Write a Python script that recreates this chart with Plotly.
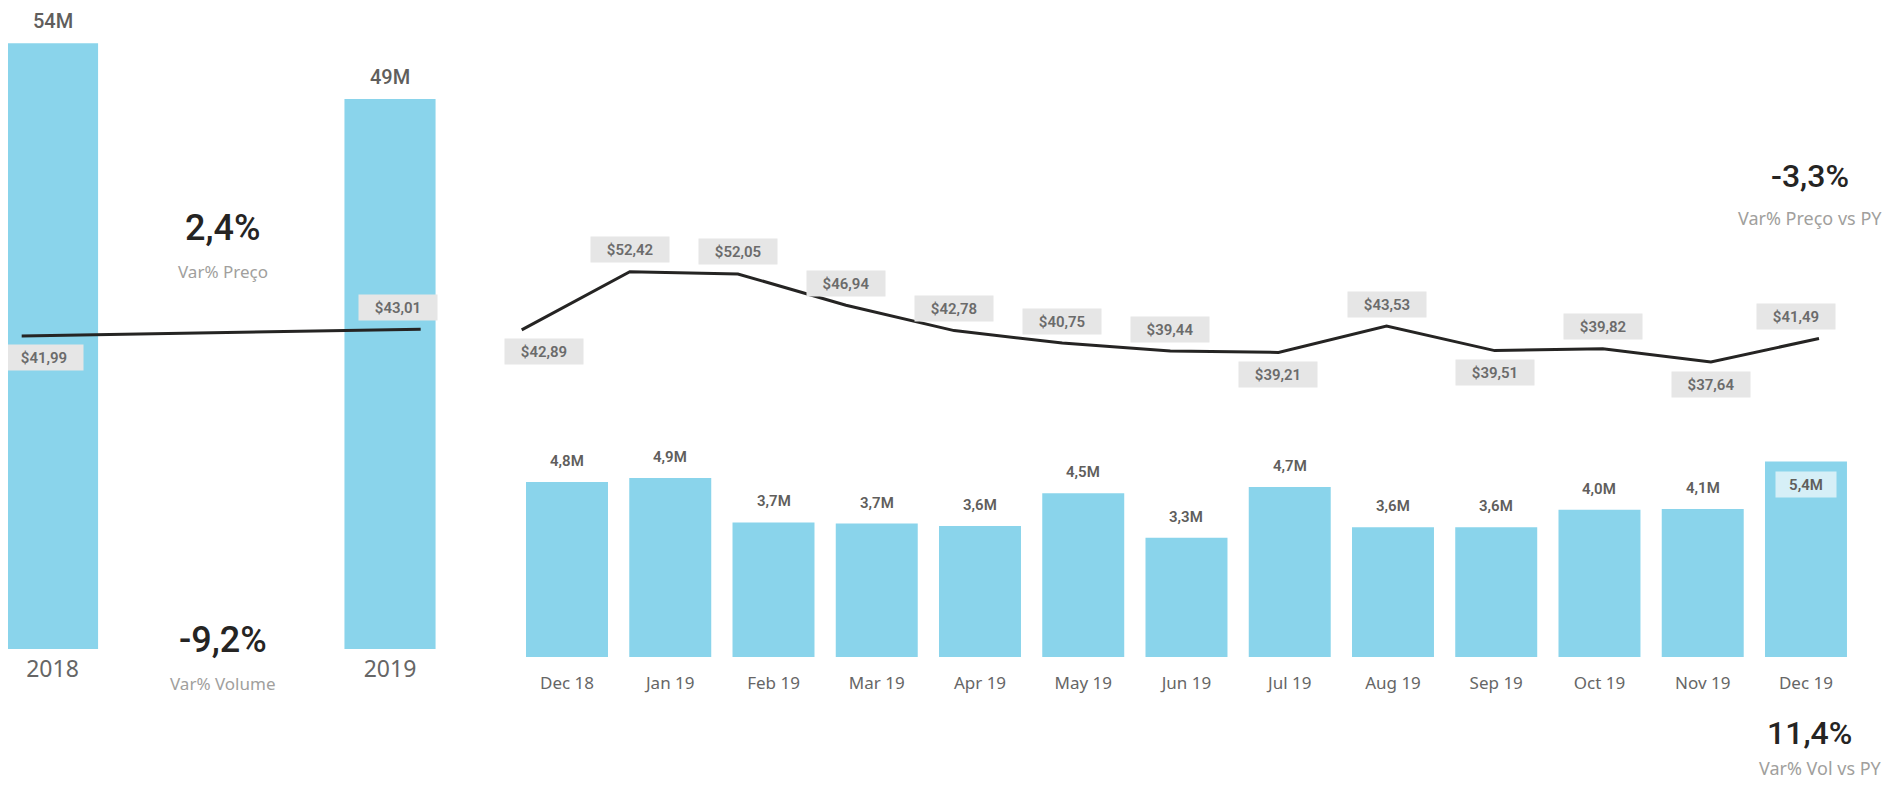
import plotly.graph_objects as go

# ---------------- data ----------------
years = ["2018", "2019"]
vol_year_m = [53.85, 48.88]          # volume, millions
price_year = [41.99, 43.01]          # average price, $

months = ["Dec 18", "Jan 19", "Feb 19", "Mar 19", "Apr 19", "May 19", "Jun 19",
          "Jul 19", "Aug 19", "Sep 19", "Oct 19", "Nov 19", "Dec 19"]
vol_month_m = [4.80, 4.91, 3.69, 3.66, 3.59, 4.49, 3.27, 4.66, 3.56, 3.56, 4.04, 4.06, 5.36]
price_month = [42.89, 52.42, 52.05, 46.94, 42.78, 40.75, 39.44, 39.21, 43.53, 39.51, 39.82, 37.64, 41.49]

kpi_labels = ["Var% Preço", "Var% Volume", "Var% Preço vs PY", "Var% Vol vs PY"]
kpi_values = [2.4, -9.2, -3.3, 11.4]

# ---------------- styling ----------------
W, H, OFF = 1875, 773, 8
BAR = "#8AD4EB"
LINE = "#252423"
DIN = "DIN, Roboto, 'Liberation Sans', sans-serif"
SEGOE = "'Segoe UI', 'Noto Sans', 'Open Sans', sans-serif"
LBL = "#605E5C"


def px(X):
    return (X - OFF) / W


def py(Y):
    return 1 - (Y - OFF) / H


def comma(s):
    return s.replace(".", ",")


fig = go.Figure()

# left: yearly volume bars + price line
fig.add_trace(go.Bar(x=years, y=vol_year_m, xaxis="x", yaxis="y", width=0.27,
                     marker=dict(color=BAR, line=dict(width=0)), hoverinfo="skip"))
fig.add_trace(go.Scatter(x=years, y=price_year, xaxis="x2", yaxis="y2", mode="lines",
                         line=dict(color=LINE, width=3), hoverinfo="skip"))

# right: monthly volume bars + price line
fig.add_trace(go.Bar(x=months, y=vol_month_m, xaxis="x3", yaxis="y3", width=0.794,
                     marker=dict(color=BAR, line=dict(width=0)), hoverinfo="skip"))
fig.add_trace(go.Scatter(x=months, y=price_month, xaxis="x4", yaxis="y4", mode="lines",
                         line=dict(color=LINE, width=3), hoverinfo="skip"))

ann = []

# yearly bar labels (category index positions on the category axis)
for i, v in enumerate(vol_year_m):
    ann.append(dict(x=i, y=v, xref="x", yref="y", text=f"{round(v):d}M", showarrow=False,
                    yanchor="middle", yshift=22,
                    font=dict(family=DIN, size=20, color=LBL, weight=500)))

# monthly bar labels
vmax = max(vol_month_m)
for i, v in enumerate(vol_month_m):
    txt = comma(f"{v:.1f}") + "M"
    if v == vmax:
        ann.append(dict(x=i, y=v, xref="x3", yref="y3", text=txt, showarrow=False,
                        yanchor="middle", yshift=-23, bgcolor="#D6EFF7",
                        width=54, height=19, borderpad=3,
                        font=dict(family=DIN, size=15, color=LBL, weight=600)))
    else:
        ann.append(dict(x=i, y=v, xref="x3", yref="y3", text=txt, showarrow=False,
                        yanchor="middle", yshift=21,
                        font=dict(family=DIN, size=15, color=LBL, weight=600)))


def price_labels(vals, xref, yref):
    n = len(vals)
    out = []
    for i, p in enumerate(vals):
        nb = [vals[j] for j in (i - 1, i + 1) if 0 <= j < n]
        below = all(p < q for q in nb)
        xs = 22 if i == 0 else (-23 if i == n - 1 else 0)
        out.append(dict(x=i, y=p, xref=xref, yref=yref, text=comma(f"${p:.2f}"),
                        showarrow=False, yanchor="middle", xanchor="center",
                        yshift=-22 if below else 22, xshift=xs,
                        bgcolor="#E6E6E6", width=72, height=19, borderpad=3,
                        font=dict(family=DIN, size=15, color="#6B6B6B", weight=600)))
    return out


ann += price_labels(price_year, "x2", "y2")
ann += price_labels(price_month, "x4", "y4")

# KPI cards
kpi_pos = [(222.5, 228, 271), (223, 640, 683), (1810, 176, 218), (1809, 733, None)]
for lab, val, (cx, vy, ly) in zip(kpi_labels, kpi_values, kpi_pos):
    left = cx < 500
    big = 36 if left else 32
    sub = 17 if left else 18
    ann.append(dict(x=px(cx), y=py(vy), xref="paper", yref="paper", showarrow=False,
                    text=comma(f"{val:.1f}%"), xanchor="center", yanchor="middle",
                    font=dict(family=DIN, size=big, color="#252423", weight=500)))
    if left:
        ann.append(dict(x=px(cx), y=py(ly), xref="paper", yref="paper", showarrow=False,
                        text=lab, xanchor="center", yanchor="middle",
                        font=dict(family=SEGOE, size=sub, color="#A19F9D")))
    else:
        ann.append(dict(x=1, y=py(ly) if ly is not None else 0, xref="paper", yref="paper",
                        showarrow=False, text=lab, xanchor="right",
                        yanchor="middle" if ly is not None else "bottom", borderpad=0,
                        font=dict(family=SEGOE, size=sub, color="#A19F9D")))

hid = dict(visible=False, showgrid=False, zeroline=False, fixedrange=True)

fig.update_layout(
    width=W, height=H, autosize=False,
    margin=dict(l=0, r=0, t=0, b=0, pad=0),
    paper_bgcolor="white", plot_bgcolor="rgba(0,0,0,0)",
    showlegend=False, barmode="overlay",
    annotations=ann,
    xaxis=dict(type="category", domain=[px(8), px(438)], range=[-0.1319, 1.1422], anchor="y",
               showgrid=False, zeroline=False, showline=False, ticks="",
               ticklabelstandoff=4, tickfont=dict(family=SEGOE, size=23, color="#666666")),
    yaxis=dict(domain=[py(649), 1], range=[0, 56.98], anchor="x", **hid),
    xaxis2=dict(type="category", domain=[px(8), px(438)], range=[-0.0343, 1.0434], anchor="y2",
                overlaying="x", **hid),
    yaxis2=dict(domain=[py(649), 1], range=[-5.65, 91.91], anchor="x2",
                overlaying="y", **hid),
    xaxis3=dict(type="category", domain=[px(490), 1], range=[-0.7458, 12.746], anchor="y3",
                showgrid=False, zeroline=False, showline=False, ticks="",
                ticklabelstandoff=14, tickfont=dict(family=SEGOE, size=17, color="#666666")),
    yaxis3=dict(domain=[py(657), 1], range=[0, 17.796], anchor="x3", **hid),
    xaxis4=dict(type="category", domain=[px(490), 1], range=[-0.2932, 12.592], anchor="y4",
                overlaying="x3", **hid),
    yaxis4=dict(domain=[py(657), 1], range=[-10.64, 95.58], anchor="x4",
                overlaying="y3", **hid),
)

fig.write_html("out.html", config={"displayModeBar": False, "staticPlot": True})
